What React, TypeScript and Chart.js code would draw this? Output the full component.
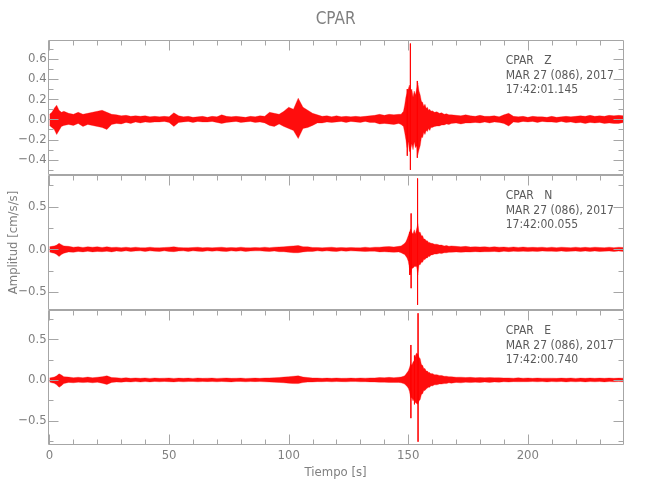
import { useEffect, useRef } from 'react';
import { Chart, registerables } from 'chart.js';

Chart.register(...registerables);

// ---------- data ----------
const TITLE = 'CPAR';
const STATION = 'CPAR';
const CHANNELS = ['Z', 'N', 'E'];
const DATE_LABEL = 'MAR 27 (086), 2017';
const START_TIMES = ['17:42:01.145', '17:42:00.055', '17:42:00.740'];
const X_TITLE = 'Tiempo [s]';
const Y_TITLE = 'Amplitud [cm/s/s]';

const X_TICKS = [0, 50, 100, 150, 200];
const X_MINOR = [10, 20, 30, 40, 60, 70, 80, 90, 110, 120, 130, 140, 160, 170, 180, 190, 210, 220, 230];
const Y1_TICKS = [-0.4, -0.2, 0.0, 0.2, 0.4, 0.6];
const Y1_MINOR = [-0.5, -0.3, -0.1, 0.1, 0.3, 0.5, 0.7];
const Y2_TICKS = [-0.5, 0.0, 0.5];
const Y2_MINOR = [-0.25, 0.25, 0.75];
const Y3_TICKS = [-0.5, 0.0, 0.5];
const Y3_MINOR = [-0.75, -0.25, 0.25, 0.75];

// time samples (s) of the envelope
const T = [
  0, 1, 2, 3, 4, 5, 6,
  8, 10, 12, 14, 16, 18, 20, 22, 24, 26,
  28, 30, 32, 34, 36, 38, 40, 42, 44, 46,
  48, 50, 52, 54, 56, 58, 60, 62, 64, 66,
  68, 70, 72, 74, 76, 78, 80, 82, 84, 86,
  88, 90, 92, 94, 96, 98, 100, 102, 104, 106,
  108, 110, 112, 114, 116, 118, 120, 122, 124, 126,
  128, 130, 132, 134, 136, 138, 140, 142, 144, 146,
  147, 148,
  148.5, 149, 149.5, 150, 150.5, 151, 151.5, 152, 152.5, 153, 153.5, 154,
  154.5, 155, 155.5, 156, 156.5, 157, 157.5, 158, 158.5, 159, 159.5, 160,
  161, 162, 163, 164, 165, 166, 167, 168,
  170, 172, 174, 176, 178, 180, 182, 184, 186, 188,
  190, 192, 194, 196, 198, 200, 202, 204, 206, 208,
  210, 212, 214, 216, 218, 220, 222, 224, 226, 228,
  230, 232, 234, 236, 238, 240,
];

// Z component: upper / lower envelope
const Z_UP = [
  0.05, 0.07, 0.11, 0.14, 0.09, 0.07, 0.08,
  0.06, 0.05, 0.07, 0.05, 0.06, 0.07, 0.08, 0.09, 0.07, 0.05,
  0.045, 0.035, 0.04, 0.03, 0.035, 0.03, 0.035, 0.025, 0.03, 0.025,
  0.03, 0.025, 0.065, 0.035, 0.025, 0.03, 0.02, 0.025, 0.03, 0.02,
  0.03, 0.025, 0.045, 0.03, 0.025, 0.03, 0.025, 0.02, 0.03, 0.025,
  0.035, 0.03, 0.07, 0.06, 0.05, 0.08, 0.12, 0.1, 0.21, 0.12,
  0.09, 0.06, 0.045, 0.03, 0.035, 0.025, 0.035, 0.025, 0.03, 0.025,
  0.03, 0.025, 0.03, 0.035, 0.04, 0.05, 0.04, 0.05, 0.045, 0.05,
  0.05, 0.08,
  0.14, 0.22, 0.26, 0.30, 0.34, 0.28, 0.30, 0.22, 0.28, 0.24, 0.30, 0.36,
  0.28, 0.24, 0.18, 0.17, 0.13, 0.15, 0.11, 0.12, 0.09, 0.10, 0.08, 0.085,
  0.07, 0.075, 0.06, 0.065, 0.05, 0.055, 0.045, 0.045,
  0.04, 0.035, 0.045, 0.035, 0.03, 0.04, 0.03, 0.03, 0.035, 0.025,
  0.045, 0.06, 0.03, 0.025, 0.03, 0.02, 0.03, 0.025, 0.025, 0.02,
  0.03, 0.02, 0.025, 0.03, 0.025, 0.03, 0.035, 0.03, 0.04, 0.03,
  0.035, 0.03, 0.04, 0.035, 0.04, 0.035,
];
const Z_LO = [
  -0.06, -0.08, -0.10, -0.15, -0.11, -0.07, -0.06,
  -0.05, -0.06, -0.04, -0.07, -0.05, -0.06, -0.07, -0.08, -0.10, -0.05,
  -0.04, -0.045, -0.03, -0.04, -0.025, -0.035, -0.025, -0.03, -0.025, -0.025,
  -0.02, -0.03, -0.07, -0.03, -0.025, -0.02, -0.03, -0.02, -0.025, -0.025,
  -0.02, -0.03, -0.04, -0.03, -0.025, -0.02, -0.03, -0.025, -0.02, -0.03,
  -0.025, -0.035, -0.06, -0.07, -0.045, -0.07, -0.09, -0.11, -0.19, -0.09,
  -0.08, -0.06, -0.035, -0.035, -0.025, -0.03, -0.025, -0.02, -0.03, -0.02,
  -0.025, -0.03, -0.02, -0.03, -0.03, -0.045, -0.04, -0.045, -0.05, -0.04,
  -0.05, -0.07,
  -0.13, -0.20, -0.28, -0.22, -0.32, -0.30, -0.24, -0.30, -0.22, -0.28, -0.26, -0.35,
  -0.30, -0.26, -0.18, -0.18, -0.13, -0.15, -0.11, -0.12, -0.09, -0.11, -0.08, -0.08,
  -0.07, -0.065, -0.065, -0.055, -0.055, -0.045, -0.05, -0.04,
  -0.035, -0.045, -0.035, -0.035, -0.03, -0.035, -0.025, -0.035, -0.025, -0.03,
  -0.04, -0.065, -0.025, -0.03, -0.02, -0.025, -0.02, -0.03, -0.02, -0.025,
  -0.025, -0.03, -0.02, -0.03, -0.025, -0.035, -0.03, -0.04, -0.03, -0.035,
  -0.03, -0.04, -0.035, -0.04, -0.04, -0.03,
];

// N component
const N_UP = [
  0.03, 0.035, 0.04, 0.05, 0.07, 0.055, 0.04,
  0.035, 0.025, 0.03, 0.022, 0.03, 0.025, 0.03, 0.022, 0.03, 0.022,
  0.025, 0.02, 0.025, 0.018, 0.025, 0.02, 0.018, 0.025, 0.02, 0.018,
  0.022, 0.025, 0.03, 0.022, 0.02, 0.018, 0.022, 0.025, 0.018, 0.022,
  0.018, 0.022, 0.025, 0.018, 0.022, 0.018, 0.025, 0.02, 0.018, 0.022,
  0.02, 0.025, 0.02, 0.025, 0.028, 0.03, 0.035, 0.04, 0.045, 0.03,
  0.03, 0.022, 0.022, 0.018, 0.022, 0.025, 0.018, 0.022, 0.018, 0.022,
  0.02, 0.018, 0.025, 0.02, 0.025, 0.025, 0.03, 0.032, 0.028, 0.035,
  0.04, 0.06,
  0.07, 0.09, 0.12, 0.16, 0.20, 0.24, 0.20, 0.18, 0.23, 0.18, 0.24, 0.30,
  0.20, 0.20, 0.16, 0.16, 0.12, 0.12, 0.10, 0.10, 0.08, 0.08, 0.07, 0.07,
  0.06, 0.06, 0.05, 0.05, 0.04, 0.045, 0.035, 0.04,
  0.035, 0.03, 0.035, 0.028, 0.03, 0.028, 0.03, 0.025, 0.03, 0.025,
  0.027, 0.022, 0.028, 0.022, 0.027, 0.022, 0.024, 0.022, 0.025, 0.02,
  0.025, 0.02, 0.025, 0.022, 0.02, 0.025, 0.02, 0.024, 0.02, 0.025,
  0.022, 0.02, 0.025, 0.02, 0.025, 0.022,
];
const N_LO = [
  -0.03, -0.04, -0.045, -0.06, -0.085, -0.06, -0.045,
  -0.03, -0.035, -0.025, -0.03, -0.022, -0.03, -0.025, -0.028, -0.022, -0.03,
  -0.02, -0.025, -0.018, -0.025, -0.02, -0.018, -0.025, -0.018, -0.022, -0.025,
  -0.018, -0.025, -0.028, -0.02, -0.018, -0.025, -0.018, -0.022, -0.025, -0.018,
  -0.022, -0.018, -0.022, -0.025, -0.018, -0.022, -0.018, -0.025, -0.02, -0.018,
  -0.018, -0.022, -0.025, -0.02, -0.028, -0.028, -0.035, -0.04, -0.04, -0.03,
  -0.025, -0.025, -0.018, -0.022, -0.018, -0.022, -0.025, -0.018, -0.022, -0.018,
  -0.02, -0.022, -0.025, -0.022, -0.022, -0.03, -0.028, -0.032, -0.035, -0.03,
  -0.04, -0.055,
  -0.06, -0.08, -0.10, -0.14, -0.22, -0.30, -0.22, -0.22, -0.20, -0.20, -0.20, -0.30,
  -0.18, -0.18, -0.15, -0.15, -0.12, -0.12, -0.10, -0.10, -0.08, -0.085, -0.065, -0.065,
  -0.055, -0.055, -0.045, -0.05, -0.04, -0.04, -0.035, -0.035,
  -0.03, -0.035, -0.03, -0.032, -0.027, -0.03, -0.028, -0.028, -0.025, -0.03,
  -0.022, -0.027, -0.022, -0.026, -0.022, -0.025, -0.022, -0.024, -0.02, -0.023,
  -0.022, -0.025, -0.02, -0.025, -0.022, -0.02, -0.025, -0.02, -0.025, -0.02,
  -0.025, -0.022, -0.02, -0.025, -0.02, -0.024,
];

// E component
const E_UP = [
  0.025, 0.03, 0.035, 0.05, 0.075, 0.06, 0.04,
  0.035, 0.028, 0.033, 0.027, 0.035, 0.027, 0.033, 0.04, 0.05, 0.03,
  0.028, 0.022, 0.027, 0.02, 0.025, 0.02, 0.025, 0.019, 0.024, 0.02,
  0.022, 0.024, 0.019, 0.023, 0.02, 0.023, 0.019, 0.024, 0.02, 0.022,
  0.023, 0.019, 0.022, 0.024, 0.02, 0.021, 0.023, 0.019, 0.021, 0.023,
  0.02, 0.024, 0.025, 0.027, 0.03, 0.035, 0.04, 0.045, 0.05, 0.035,
  0.03, 0.024, 0.024, 0.02, 0.023, 0.02, 0.024, 0.02, 0.021, 0.023,
  0.02, 0.024, 0.022, 0.025, 0.025, 0.03, 0.028, 0.032, 0.028, 0.033,
  0.035, 0.045,
  0.05, 0.07, 0.09, 0.11, 0.15, 0.20, 0.18, 0.22, 0.24, 0.30, 0.33, 0.32,
  0.28, 0.26, 0.19, 0.18, 0.14, 0.14, 0.11, 0.11, 0.09, 0.09, 0.075, 0.08,
  0.065, 0.065, 0.055, 0.055, 0.045, 0.045, 0.04, 0.04,
  0.033, 0.034, 0.03, 0.032, 0.028, 0.03, 0.027, 0.029, 0.026, 0.027,
  0.024, 0.025, 0.021, 0.026, 0.021, 0.025, 0.02, 0.024, 0.021, 0.022,
  0.022, 0.02, 0.023, 0.02, 0.024, 0.019, 0.023, 0.02, 0.024, 0.02,
  0.023, 0.02, 0.024, 0.02, 0.023, 0.022,
];
const E_LO = [
  -0.025, -0.035, -0.04, -0.06, -0.09, -0.07, -0.045,
  -0.03, -0.035, -0.027, -0.033, -0.027, -0.035, -0.028, -0.04, -0.055, -0.03,
  -0.025, -0.027, -0.021, -0.025, -0.02, -0.025, -0.02, -0.024, -0.019, -0.023,
  -0.019, -0.022, -0.024, -0.019, -0.023, -0.02, -0.019, -0.023, -0.02, -0.021,
  -0.02, -0.023, -0.019, -0.022, -0.024, -0.02, -0.019, -0.023, -0.02, -0.021,
  -0.02, -0.023, -0.025, -0.028, -0.03, -0.035, -0.04, -0.045, -0.045, -0.032,
  -0.026, -0.025, -0.021, -0.022, -0.019, -0.023, -0.02, -0.021, -0.023, -0.02,
  -0.02, -0.023, -0.022, -0.024, -0.025, -0.028, -0.028, -0.03, -0.03, -0.03,
  -0.035, -0.045,
  -0.05, -0.065, -0.08, -0.10, -0.14, -0.22, -0.22, -0.26, -0.23, -0.28, -0.29, -0.30,
  -0.26, -0.24, -0.18, -0.17, -0.13, -0.13, -0.11, -0.10, -0.09, -0.09, -0.07, -0.075,
  -0.06, -0.06, -0.05, -0.05, -0.045, -0.045, -0.035, -0.04,
  -0.03, -0.036, -0.028, -0.033, -0.027, -0.032, -0.025, -0.03, -0.024, -0.028,
  -0.022, -0.026, -0.021, -0.023, -0.022, -0.022, -0.02, -0.023, -0.02, -0.024,
  -0.02, -0.023, -0.019, -0.024, -0.02, -0.023, -0.019, -0.024, -0.02, -0.023,
  -0.02, -0.024, -0.02, -0.023, -0.02, -0.023,
];

// isolated peaks (time, max, min)
const Z_SPIKE_T = [150.9, 149.6, 153.8];
const Z_SPIKE_MAX = [0.75, 0.3, 0.38];
const Z_SPIKE_MIN = [-0.5, -0.36, -0.38];
const N_SPIKE_T = [151.2, 153.9, 150.6];
const N_SPIKE_MAX = [0.42, 0.83, 0.2];
const N_SPIKE_MIN = [-0.455, -0.65, -0.3];
const E_SPIKE_T = [151.1, 154.1, 152.6];
const E_SPIKE_MAX = [0.43, 0.82, 0.3];
const E_SPIKE_MIN = [-0.47, -0.76, -0.3];

// axis ranges
const X_MIN = -0.75;
const X_MAX = 240;
const Y_MIN = [-0.55, -0.71, -0.8];
const Y_MAX = [0.785, 0.87, 0.86];

// ---------- styling ----------
const FONT = "'Liberation Sans Narrow', 'DejaVu Sans Condensed', 'Liberation Sans', sans-serif";
const AXIS_COLOR = '#a6a6a6';
const LABEL_COLOR = '#808080';
const NOTE_COLOR = '#5a5a5a';
const WAVE_FILL = 'rgba(255,0,0,0.95)';
const WAVE_EDGE = 'rgba(255,0,0,0.4)';

const fmtY = (v: number) => {
  const s = Math.abs(v) < 1e-9 ? '0.0' : v.toFixed(1);
  return s.replace('-', '\u2212');
};

export default function App() {
  const ref = useRef<HTMLCanvasElement>(null);

  useEffect(() => {
    const canvas = ref.current;
    if (!canvas) return;

    const panels = [
      { id: 'y1', up: Z_UP, lo: Z_LO, st: Z_SPIKE_T, smax: Z_SPIKE_MAX, smin: Z_SPIKE_MIN, ticks: Y1_TICKS, minor: Y1_MINOR },
      { id: 'y2', up: N_UP, lo: N_LO, st: N_SPIKE_T, smax: N_SPIKE_MAX, smin: N_SPIKE_MIN, ticks: Y2_TICKS, minor: Y2_MINOR },
      { id: 'y3', up: E_UP, lo: E_LO, st: E_SPIKE_T, smax: E_SPIKE_MAX, smin: E_SPIKE_MIN, ticks: Y3_TICKS, minor: Y3_MINOR },
    ];

    const datasets: any[] = [];
    panels.forEach((p) => {
      datasets.push({
        data: T.map((t, i) => ({ x: t, y: p.up[i] })),
        yAxisID: p.id,
        fill: '+1',
        backgroundColor: WAVE_FILL,
        borderColor: WAVE_EDGE,
        borderWidth: 0.8,
        pointRadius: 0,
        tension: 0,
      });
      datasets.push({
        data: T.map((t, i) => ({ x: t, y: p.lo[i] })),
        yAxisID: p.id,
        fill: false,
        borderColor: WAVE_EDGE,
        borderWidth: 0.8,
        pointRadius: 0,
        tension: 0,
      });
      const sp: any[] = [];
      p.st.forEach((t, i) => {
        sp.push({ x: t, y: p.smax[i] });
        sp.push({ x: t, y: p.smin[i] });
        sp.push({ x: t, y: null });
      });
      datasets.push({
        data: sp,
        yAxisID: p.id,
        fill: false,
        borderColor: 'rgba(255,0,0,0.8)',
        borderWidth: 1,
        pointRadius: 0,
        spanGaps: false,
      });
    });

    const yScale = (k: number) => ({
      type: 'linear',
      position: 'left',
      stack: 'seis',
      stackWeight: 1,
      weight: 3 - k,
      min: Y_MIN[k],
      max: Y_MAX[k],
      offset: false,
      afterBuildTicks: (s: any) => {
        s.ticks = panels[k].ticks.map((v) => ({ value: v }));
      },
      afterFit: (s: any) => {
        s.width = 47.7;
      },
      grid: { display: false, drawTicks: false },
      border: { display: false },
      ticks: {
        color: LABEL_COLOR,
        font: { family: FONT, size: 13 },
        padding: 1,
        autoSkip: false,
        callback: (v: any) => fmtY(Number(v)),
      },
      title: {
        display: k === 1,
        text: Y_TITLE,
        color: LABEL_COLOR,
        font: { family: FONT, size: 13 },
        padding: { top: 6, bottom: 0 },
      },
    });

    const framePlugin = {
      id: 'seisFrame',
      afterDraw(chart: any) {
        const ctx = chart.ctx;
        const { left, right } = chart.chartArea;
        const xs = chart.scales.x;
        const L = Math.round(left) + 0.5;
        const R = Math.round(right) - 0.5;
        ctx.save();
        ctx.strokeStyle = AXIS_COLOR;
        ctx.lineWidth = 1;
        panels.forEach((p, k) => {
          const s = chart.scales[p.id];
          const top = Math.round(s.top) + 0.5;
          const bot = Math.round(s.bottom) - 0.5;
          ctx.beginPath();
          ctx.rect(L, top, R - L, bot - top);
          p.ticks.forEach((v) => {
            const y = Math.round(s.getPixelForValue(v)) + 0.5;
            ctx.moveTo(L, y); ctx.lineTo(L + 10, y);
            ctx.moveTo(R, y); ctx.lineTo(R - 10, y);
          });
          p.minor.forEach((v) => {
            const y = Math.round(s.getPixelForValue(v)) + 0.5;
            ctx.moveTo(L, y); ctx.lineTo(L + 5, y);
            ctx.moveTo(R, y); ctx.lineTo(R - 5, y);
          });
          X_TICKS.forEach((v) => {
            const x = Math.round(xs.getPixelForValue(v)) + 0.5;
            ctx.moveTo(x, top); ctx.lineTo(x, top + 10);
            if (k === 2) { ctx.moveTo(x, bot); ctx.lineTo(x, bot - 10); }
          });
          X_MINOR.forEach((v) => {
            const x = Math.round(xs.getPixelForValue(v)) + 0.5;
            ctx.moveTo(x, top); ctx.lineTo(x, top + 5);
            if (k === 2) { ctx.moveTo(x, bot); ctx.lineTo(x, bot - 5); }
          });
          ctx.stroke();

          ctx.fillStyle = NOTE_COLOR;
          ctx.font = `12px ${FONT}`;
          ctx.textAlign = 'left';
          ctx.textBaseline = 'middle';
          const tx = left + 458;
          ctx.fillText(`${STATION}   ${CHANNELS[k]}`, tx, s.top + 21);
          ctx.fillText(DATE_LABEL, tx, s.top + 35.5);
          ctx.fillText(START_TIMES[k], tx, s.top + 50);
        });
        ctx.fillStyle = LABEL_COLOR;
        ctx.font = `17px ${FONT}`;
        ctx.textAlign = 'center';
        ctx.textBaseline = 'middle';
        ctx.fillText(TITLE, (left + right) / 2, 20);
        ctx.restore();
      },
    };

    const chart = new Chart(canvas, {
      type: 'line',
      data: { datasets },
      plugins: [framePlugin],
      options: {
        animation: false,
        responsive: false,
        devicePixelRatio: 1,
        layout: { padding: { top: 40, right: 26.5, left: 0, bottom: 0 } },
        plugins: {
          legend: { display: false },
          tooltip: { enabled: false },
          title: { display: false },
        },
        scales: {
          x: {
            type: 'linear',
            min: X_MIN,
            max: X_MAX,
            afterBuildTicks: (s: any) => {
              s.ticks = X_TICKS.map((v) => ({ value: v }));
            },
            afterFit: (s: any) => {
              s.height = 55;
            },
            grid: { display: false, drawTicks: false },
            border: { display: false },
            ticks: {
              color: LABEL_COLOR,
              font: { family: FONT, size: 13 },
              padding: 3,
              maxRotation: 0,
              autoSkip: false,
              callback: (v: any) => String(v),
            },
            title: {
              display: true,
              text: X_TITLE,
              color: LABEL_COLOR,
              font: { family: FONT, size: 13 },
              padding: { top: 0, bottom: 20 },
            },
          },
          y1: yScale(0),
          y2: yScale(1),
          y3: yScale(2),
        } as any,
      },
    } as any);

    return () => chart.destroy();
  }, []);

  return (
    <div style={{ position: 'absolute', left: 0, top: 0, width: 650, height: 500, background: '#fff' }}>
      <canvas ref={ref} width={650} height={500} />
    </div>
  );
}
